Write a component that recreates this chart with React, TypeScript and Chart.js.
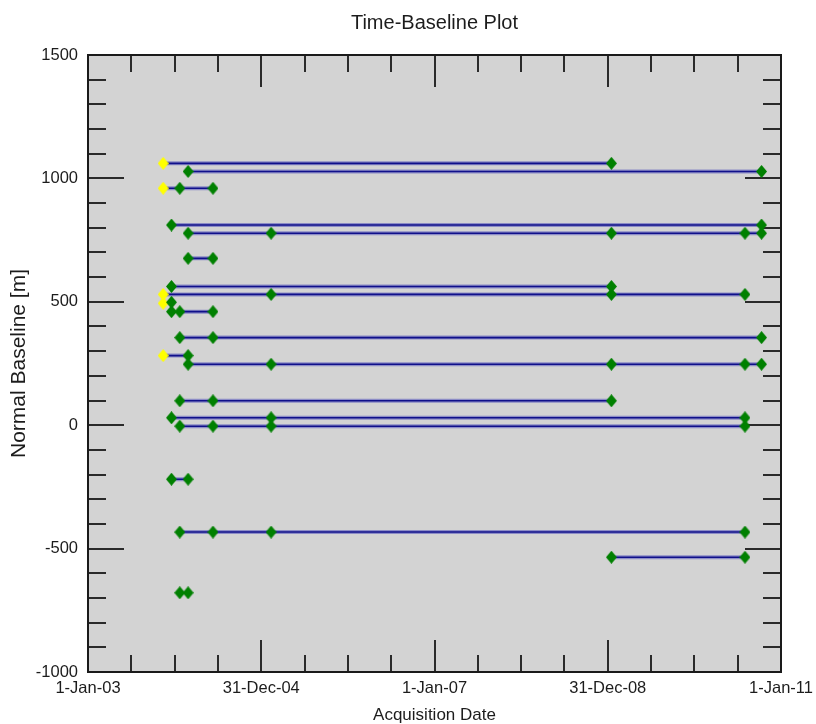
import React, { useEffect, useRef } from 'react';
import { Chart, registerables } from 'chart.js';

Chart.register(...registerables);

// ---- data ----
const acquisitionDates = [
  '2003-11-14', '2003-12-19', '2004-01-23', '2004-02-27', '2004-06-11',
  '2005-02-11', '2009-01-16', '2010-08-02', '2010-10-11',
];

// yellow (master) acquisitions
const masterDateIdx = [0, 0, 0, 0, 0];
const masterBaseline = [1061, 960, 530, 494, 282];

// green (slave) acquisitions
const slaveDateIdx = [
  6,
  3, 8,
  2, 4,
  1, 8,
  3, 5, 6, 7, 8,
  3, 4,
  1, 6,
  5, 6, 7,
  1,
  1, 2, 4,
  2, 4, 8,
  3,
  3, 5, 6, 7, 8,
  2, 4, 6,
  1, 5, 7,
  2, 4, 5, 7,
  1, 3,
  2, 4, 5, 7,
  2, 3,
  6, 7,
];
const slaveBaseline = [
  1061,
  1028, 1028,
  960, 960,
  811, 811,
  778, 778, 778, 778, 778,
  676, 676,
  562, 562,
  530, 530, 530,
  498,
  460, 460, 460,
  355, 355, 355,
  282,
  247, 247, 247, 247, 247,
  99, 99, 99,
  30, 30, 30,
  -4, -4, -4, -4,
  -219, -219,
  -433, -433, -433, -433,
  -679, -679,
  -535, -535,
];

// connections
const linkStartIdx = [0, 3, 0, 1, 3, 3, 1, 0, 2, 2, 0, 3, 2, 1, 2, 1, 2, 6];
const linkEndIdx = [6, 8, 4, 8, 8, 4, 6, 7, 4, 8, 3, 8, 6, 7, 7, 3, 7, 7];
const linkBaseline = [1061, 1028, 960, 811, 778, 676, 562, 530, 460, 355, 282, 247, 99, 30, -4, -219, -433, -535];

const xTickLabels = ['1-Jan-03', '31-Dec-04', '1-Jan-07', '31-Dec-08', '1-Jan-11'];
const yTickLabels = ['-1000', '-500', '0', '500', '1000', '1500'];

const X_START = '2003-01-01';
const X_END = '2011-01-01';
const Y_MIN = -1000;
const Y_MAX = 1500;

// ---- helpers ----
function dayNumber(s: string): number {
  const [y, m, d] = s.split('-').map(Number);
  const [y0, m0, d0] = X_START.split('-').map(Number);
  return (Date.UTC(y, m - 1, d) - Date.UTC(y0, m0 - 1, d0)) / 86400000;
}

function makeDiamond(color: string, w: number, h: number): HTMLCanvasElement {
  const c = document.createElement('canvas');
  c.width = w;
  c.height = h;
  const g = c.getContext('2d')!;
  g.fillStyle = color;
  g.beginPath();
  g.moveTo(w / 2, 0);
  g.lineTo(w, h / 2);
  g.lineTo(w / 2, h);
  g.lineTo(0, h / 2);
  g.closePath();
  g.fill();
  return c;
}

const FONT = "'Liberation Sans', Arial, Helvetica, sans-serif";
const TEXT = '#1c1c1c';

const framePlugin = {
  id: 'idlFrame',
  beforeDraw(chart: any) {
    const { ctx, chartArea: a } = chart;
    ctx.save();
    ctx.fillStyle = '#d3d3d3';
    ctx.fillRect(a.left, a.top, a.right - a.left, a.bottom - a.top);
    ctx.restore();
  },
  beforeDatasetsDraw(chart: any) {
    const { ctx, chartArea: a, scales } = chart;
    ctx.save();
    ctx.strokeStyle = '#2a2a2a';
    ctx.lineWidth = 2;
    ctx.beginPath();
    scales.x.ticks.forEach((t: any, i: number) => {
      const px = Math.round(scales.x.getPixelForValue(t.value));
      const len = i % 4 === 0 ? 32 : 17;
      ctx.moveTo(px, a.bottom);
      ctx.lineTo(px, a.bottom - len);
      ctx.moveTo(px, a.top);
      ctx.lineTo(px, a.top + len);
    });
    scales.y.ticks.forEach((t: any) => {
      const py = Math.round(scales.y.getPixelForValue(t.value));
      const len = t.value % 500 === 0 ? 36 : 18;
      ctx.moveTo(a.left, py);
      ctx.lineTo(a.left + len, py);
      ctx.moveTo(a.right, py);
      ctx.lineTo(a.right - len, py);
    });
    ctx.stroke();
    ctx.restore();
  },
  afterDatasetsDraw(chart: any) {
    const { ctx, chartArea: a } = chart;
    ctx.save();
    ctx.strokeStyle = '#1a1a1a';
    ctx.lineWidth = 2;
    ctx.strokeRect(a.left, a.top, a.right - a.left, a.bottom - a.top);
    ctx.restore();
  },
  afterDraw(chart: any) {
    const { ctx, chartArea: a } = chart;
    ctx.save();
    ctx.fillStyle = TEXT;
    ctx.textAlign = 'center';
    ctx.textBaseline = 'middle';
    ctx.font = `20px ${FONT}`;
    ctx.fillText('Time-Baseline Plot', (a.left + a.right) / 2, 23);
    ctx.font = `17px ${FONT}`;
    ctx.fillText('Acquisition Date', (a.left + a.right) / 2, 715);
    ctx.translate(19, (a.top + a.bottom) / 2);
    ctx.rotate(-Math.PI / 2);
    ctx.font = `21px ${FONT}`;
    ctx.fillText('Normal Baseline [m]', 0, 0);
    ctx.restore();
  },
};

export default function App() {
  const ref = useRef<HTMLCanvasElement | null>(null);

  useEffect(() => {
    if (!ref.current) return;
    const dayX = acquisitionDates.map(dayNumber);
    const xMax = dayNumber(X_END);

    const greenPts = slaveDateIdx.map((d, i) => ({ x: dayX[d], y: slaveBaseline[i] }));
    const yellowPts = masterDateIdx.map((d, i) => ({ x: dayX[d], y: masterBaseline[i] }));
    const linkPts: any[] = [];
    linkStartIdx.forEach((s, i) => {
      linkPts.push({ x: dayX[s], y: linkBaseline[i] });
      linkPts.push({ x: dayX[linkEndIdx[i]], y: linkBaseline[i] });
      linkPts.push({ x: dayX[linkEndIdx[i]], y: null });
    });

    const greenImg = makeDiamond('#008000', 11, 13);
    const yellowImg = makeDiamond('#ffff00', 11, 13);

    const chart = new Chart(ref.current, {
      type: 'scatter',
      data: {
        datasets: [
          {
            type: 'scatter',
            data: greenPts,
            pointStyle: greenImg as any,
            pointRadius: 6,
            order: 0,
          },
          {
            type: 'scatter',
            data: yellowPts,
            pointStyle: yellowImg as any,
            pointRadius: 6,
            order: 1,
          },
          {
            type: 'line',
            data: linkPts,
            borderColor: '#10108a',
            borderWidth: 1.6,
            pointRadius: 0,
            spanGaps: false,
            tension: 0,
            order: 2,
          },
          {
            type: 'line',
            data: linkPts,
            borderColor: 'rgba(70,70,185,0.5)',
            borderWidth: 4,
            pointRadius: 0,
            spanGaps: false,
            tension: 0,
            order: 3,
          },
        ] as any,
      },
      options: {
        animation: false,
        responsive: true,
        maintainAspectRatio: false,
        layout: { padding: { left: 0, right: 35, top: 55, bottom: 0 } },
        plugins: {
          legend: { display: false },
          tooltip: { enabled: false },
          title: { display: false },
        },
        scales: {
          x: {
            type: 'linear',
            min: 0,
            max: xMax,
            grid: { display: false, drawTicks: false },
            border: { display: false },
            afterBuildTicks: (scale: any) => {
              const t = [];
              for (let i = 0; i <= 16; i++) t.push({ value: (i * xMax) / 16 });
              scale.ticks = t;
            },
            afterFit: (scale: any) => {
              scale.height = 52;
              scale.paddingLeft = 0;
              scale.paddingRight = 0;
            },
            ticks: {
              autoSkip: false,
              maxRotation: 0,
              minRotation: 0,
              padding: 7,
              color: TEXT,
              font: { family: FONT, size: 16.5 },
              callback: (_v: any, i: number) => (i % 4 === 0 ? xTickLabels[i / 4] : ''),
            },
          },
          y: {
            type: 'linear',
            min: Y_MIN,
            max: Y_MAX,
            grid: { display: false, drawTicks: false },
            border: { display: false },
            afterFit: (scale: any) => {
              scale.width = 88;
              scale.paddingTop = 0;
              scale.paddingBottom = 0;
            },
            ticks: {
              stepSize: 100,
              autoSkip: false,
              padding: 10,
              color: TEXT,
              font: { family: FONT, size: 16.5 },
              callback: (v: any) => {
                const n = Number(v);
                return n % 500 === 0 ? yTickLabels[(n - Y_MIN) / 500] : '';
              },
            },
          },
        },
      },
      plugins: [framePlugin],
    });
    return () => chart.destroy();
  }, []);

  return (
    <div style={{ position: 'absolute', left: 0, top: 0, width: 816, height: 724, background: '#fff' }}>
      <canvas ref={ref} />
    </div>
  );
}
